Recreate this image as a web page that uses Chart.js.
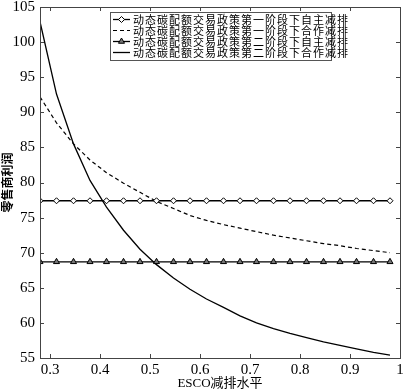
<!DOCTYPE html>
<html lang="zh">
<head>
<meta charset="UTF-8">
<title>零售商利润</title>
<script src="https://cdn.jsdelivr.net/npm/chart.js"></script>
<style>
  html, body { margin: 0; padding: 0; background: #fff; }
  #wrap { width: 405px; height: 391px; }
</style>
</head>
<body>
<div id="wrap"><canvas id="grafico" width="405" height="391"></canvas></div>
<script>
// ESCO减排水平 (横轴取样点)
const esco = [0.28, 0.313, 0.347, 0.38, 0.413, 0.447, 0.48, 0.513, 0.547, 0.58, 0.613,
              0.647, 0.68, 0.713, 0.747, 0.78, 0.813, 0.847, 0.88, 0.913, 0.947, 0.98];

// 零售商利润
const yiZizhu = [77.4, 77.4, 77.4, 77.4, 77.4, 77.4, 77.4, 77.4, 77.4, 77.4, 77.4,
                 77.4, 77.4, 77.4, 77.4, 77.4, 77.4, 77.4, 77.4, 77.4, 77.4, 77.4];
const yiHezuo = [92.2, 88.5, 85.5, 83.2, 81.4, 79.9, 78.6, 77.3, 76.3, 75.3, 74.6,
                 74.0, 73.5, 73.0, 72.5, 72.1, 71.7, 71.3, 71.0, 70.6, 70.3, 70.0];
const erZizhu = [68.7, 68.7, 68.7, 68.7, 68.7, 68.7, 68.7, 68.7, 68.7, 68.7, 68.7,
                 68.7, 68.7, 68.7, 68.7, 68.7, 68.7, 68.7, 68.7, 68.7, 68.7, 68.7];
const erHezuo = [102.9, 92.6, 85.5, 80.3, 76.5, 73.2, 70.5, 68.3, 66.4, 64.8, 63.4,
                 62.2, 61.0, 60.0, 59.2, 58.5, 57.9, 57.3, 56.8, 56.3, 55.8, 55.4];

const nombres = [
  '动态碳配额交易政策第一阶段下自主减排',
  '动态碳配额交易政策第一阶段下合作减排',
  '动态碳配额交易政策第二阶段下自主减排',
  '动态碳配额交易政策第二阶段下合作减排'
];

const xTicks = [0.3, 0.4, 0.5, 0.6, 0.7, 0.8, 0.9, 1.0];
const xTickLabels = ['0.3', '0.4', '0.5', '0.6', '0.7', '0.8', '0.9', '1'];
const yTicks = [55, 60, 65, 70, 75, 80, 85, 90, 95, 100, 105];
const yTickLabels = ['55', '60', '65', '70', '75', '80', '85', '90', '95', '100', '105'];

const serif = "'Liberation Serif', 'Noto Sans CJK SC', serif";
const cjk = "'Noto Sans CJK SC', 'Liberation Serif', sans-serif";

function puntos(serie) {
  return esco.map((x, i) => ({ x: x, y: serie[i] }));
}

// marco estilo MATLAB + leyenda dibujada a mano
const marcoPlugin = {
  id: 'marco',
  afterDraw(chart) {
    const ctx = chart.ctx;
    const a = chart.chartArea;
    const sx = chart.scales.x, sy = chart.scales.y;
    ctx.save();
    ctx.strokeStyle = '#444';
    ctx.lineWidth = 1;
    ctx.strokeRect(Math.round(a.left) + 0.5, Math.round(a.top) + 0.5,
                   Math.round(a.right - a.left), Math.round(a.bottom - a.top));
    ctx.beginPath();
    xTicks.forEach(v => {
      const px = Math.round(sx.getPixelForValue(v)) + 0.5;
      ctx.moveTo(px, a.bottom); ctx.lineTo(px, a.bottom - 4);
      ctx.moveTo(px, a.top); ctx.lineTo(px, a.top + 4);
    });
    yTicks.forEach(v => {
      const py = Math.round(sy.getPixelForValue(v)) + 0.5;
      ctx.moveTo(a.left, py); ctx.lineTo(a.left + 4, py);
      ctx.moveTo(a.right, py); ctx.lineTo(a.right - 4, py);
    });
    ctx.stroke();

    // leyenda
    const lx = 110, ly = 12, lw = 221, lh = 48;
    ctx.fillStyle = '#fff';
    ctx.fillRect(lx, ly, lw, lh);
    ctx.strokeStyle = '#555';
    ctx.strokeRect(lx + 0.5, ly + 0.5, lw, lh);
    ctx.font = '11px ' + cjk;
    ctx.letterSpacing = '1px';
    ctx.textBaseline = 'middle';
    chart.data.datasets.forEach((ds, i) => {
      const y = ly + 7.5 + i * 11;
      ctx.strokeStyle = ds.borderColor;
      ctx.lineWidth = ds.borderWidth;
      ctx.setLineDash(ds.borderDash || []);
      ctx.beginPath();
      ctx.moveTo(lx + 3, y); ctx.lineTo(lx + 20, y);
      ctx.stroke();
      ctx.setLineDash([]);
      if (ds.pointRadius > 0) {
        ctx.fillStyle = ds.pointBackgroundColor;
        ctx.strokeStyle = ds.pointBorderColor;
        ctx.lineWidth = 1;
        Chart.helpers.drawPoint(ctx, {
          pointStyle: ds.pointStyle, radius: ds.pointRadius, rotation: 0, borderWidth: 1
        }, lx + 11.5, y);
      }
      ctx.fillStyle = '#000';
      ctx.fillText(nombres[i], lx + 23, y);
    });
    ctx.restore();
  }
};

new Chart(document.getElementById('grafico'), {
  type: 'line',
  data: {
    datasets: [
      {
        label: nombres[0], data: puntos(yiZizhu),
        borderColor: '#000', borderWidth: 1.3,
        pointStyle: 'rectRot', pointRadius: 3,
        pointBackgroundColor: '#fff', pointBorderColor: '#000', pointBorderWidth: 1
      },
      {
        label: nombres[1], data: puntos(yiHezuo),
        borderColor: '#000', borderWidth: 1.2, borderDash: [4, 3],
        pointRadius: 0
      },
      {
        label: nombres[2], data: puntos(erZizhu),
        borderColor: '#000', borderWidth: 1.3,
        pointStyle: 'triangle', pointRadius: 3.5,
        pointBackgroundColor: '#777', pointBorderColor: '#000', pointBorderWidth: 1
      },
      {
        label: nombres[3], data: puntos(erHezuo),
        borderColor: '#000', borderWidth: 1.3,
        pointRadius: 0
      }
    ]
  },
  options: {
    responsive: false,
    devicePixelRatio: 1,
    animation: false,
    layout: { padding: { top: 7, right: 3, left: 0, bottom: 0 } },
    plugins: {
      legend: { display: false },
      tooltip: { enabled: false }
    },
    elements: { line: { tension: 0 } },
    scales: {
      x: {
        type: 'linear', min: 0.28, max: 1.0,
        afterBuildTicks: s => { s.ticks = xTicks.map(v => ({ value: v })); },
        afterFit: s => { s.height = 33; s.paddingLeft = 0; s.paddingRight = 0; },
        ticks: {
          callback: (v, i) => xTickLabels[i],
          font: { family: serif, size: 15 }, color: '#000',
          padding: 3, maxRotation: 0, autoSkip: false
        },
        grid: { display: false, drawTicks: false },
        border: { display: false },
        title: {
          display: true, text: 'ESCO减排水平',
          font: { family: serif, size: 13 }, color: '#000',
          padding: 0
        }
      },
      y: {
        min: 55, max: 105,
        afterBuildTicks: s => { s.ticks = yTicks.map(v => ({ value: v })); },
        afterFit: s => { s.width = 40; s.paddingTop = 0; s.paddingBottom = 0; },
        ticks: {
          callback: (v, i) => yTickLabels[i],
          font: { family: serif, size: 15 }, color: '#000',
          padding: 5, autoSkip: false
        },
        grid: { display: false, drawTicks: false },
        border: { display: false },
        title: {
          display: true, text: '零售商利润',
          font: { family: cjk, size: 12, weight: 'bold' }, color: '#000',
          padding: 0
        }
      }
    }
  },
  plugins: [marcoPlugin]
});
</script>
</body>
</html>
